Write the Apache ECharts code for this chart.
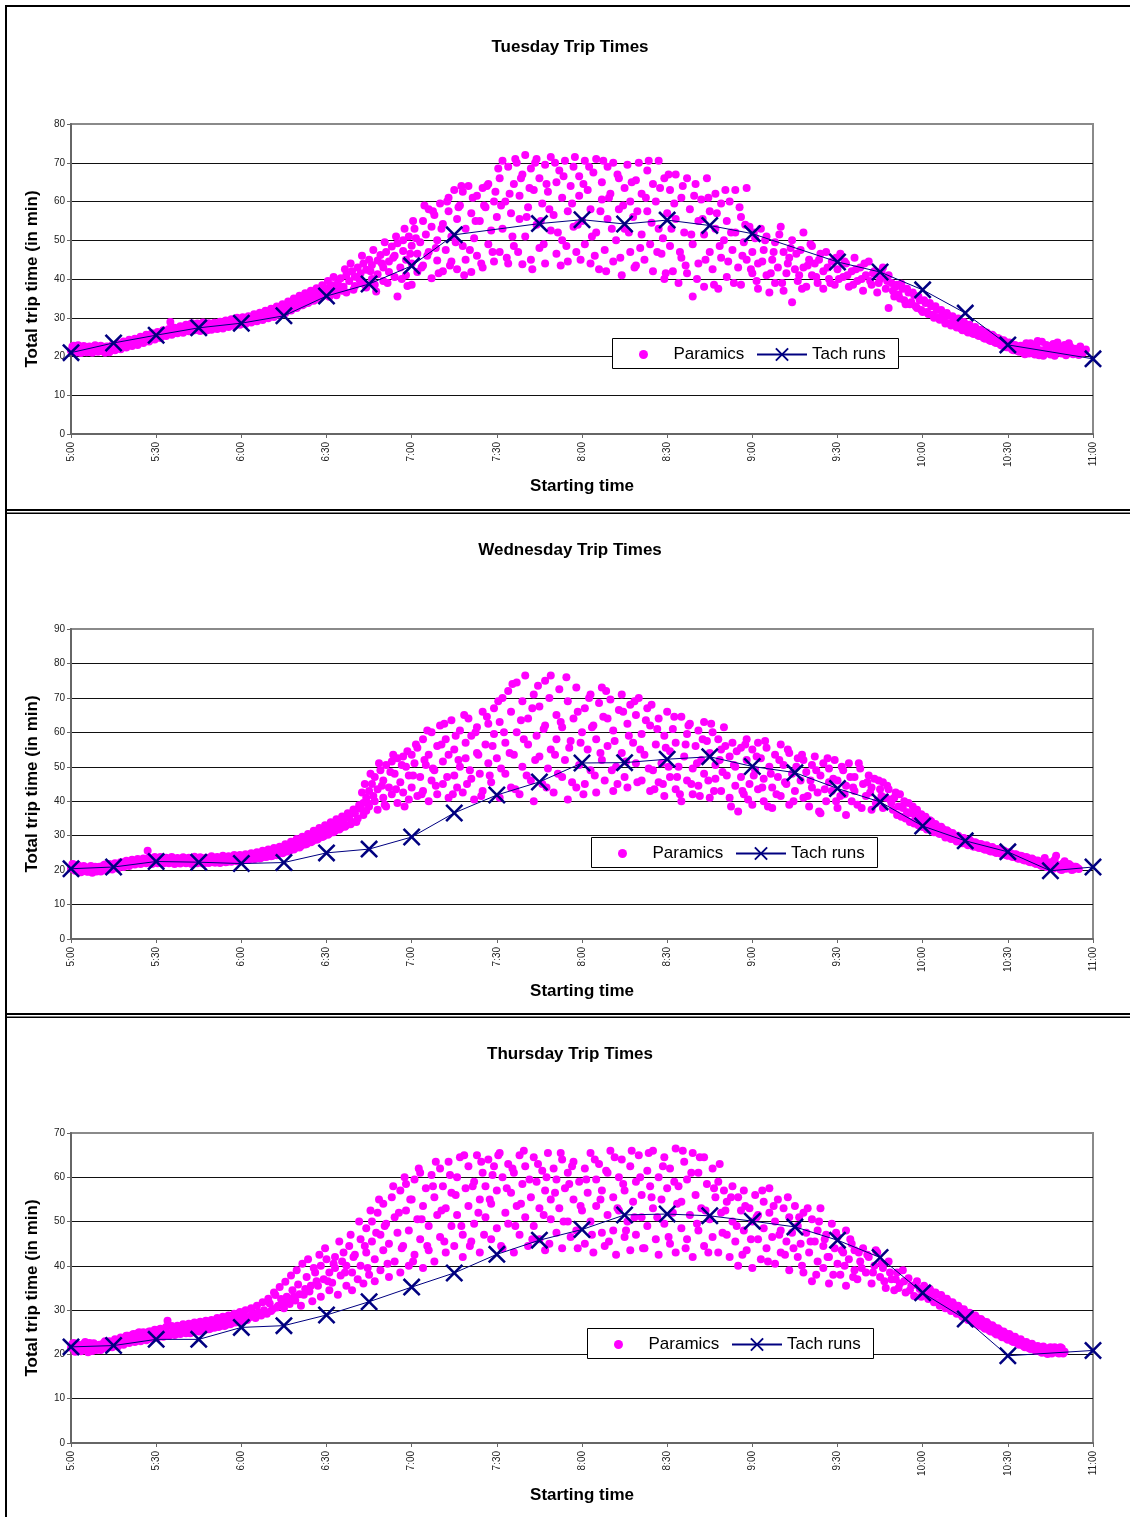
<!DOCTYPE html>
<html>
<head>
<meta charset="utf-8">
<script src="https://cdn.jsdelivr.net/npm/echarts@6/dist/echarts.min.js"></script>
<style>
  html, body { margin: 0; padding: 0; background: #fff; }
  #chart { width: 1130px; height: 1517px; }
</style>
</head>
<body>
<div id="chart"></div>
<script>
// x values are minutes after 5:00, y values are trip times in minutes
const dayTitles = ['Tuesday Trip Times', 'Wednesday Trip Times', 'Thursday Trip Times'];
const yMax = [80, 90, 70];
const xTickLabels = ['5:00', '5:30', '6:00', '6:30', '7:00', '7:30', '8:00', '8:30', '9:00', '9:30', '10:00', '10:30', '11:00'];

const tuesdayTachTimes = [0, 15, 30, 45, 60, 75, 90, 105, 120, 135, 165, 180, 195, 210, 225, 240, 270, 285, 300, 315, 330, 360];
const tuesdayTachValues = [21, 23.5, 25.5, 27.4, 28.6, 30.5, 35.6, 38.7, 43.4, 51.4, 54.3, 55.3, 54.2, 55.2, 53.8, 51.7, 44.4, 41.8, 37.2, 31.2, 23, 19.4];

const wednesdayTachTimes = [0, 15, 30, 45, 60, 75, 90, 105, 120, 135, 150, 165, 180, 195, 210, 225, 240, 255, 270, 285, 300, 315, 330, 345, 360];
const wednesdayTachValues = [20.4, 20.9, 22.5, 22.3, 21.9, 22.2, 25, 26.1, 29.6, 36.6, 41.8, 45.6, 51.1, 51.2, 52.2, 52.9, 50.1, 48.3, 43.7, 39.8, 32.8, 28.5, 25.3, 19.8, 20.9];

const thursdayTachTimes = [0, 15, 30, 45, 60, 75, 90, 105, 120, 135, 150, 165, 180, 195, 210, 225, 240, 255, 270, 285, 300, 315, 330, 360];
const thursdayTachValues = [21.7, 22, 23.4, 23.4, 26.1, 26.5, 28.9, 31.9, 35.2, 38.4, 42.6, 45.8, 48.2, 51.5, 51.7, 51.3, 50.1, 48.8, 45.8, 41.9, 33.9, 28, 19.7, 20.9];

const tuesdayParamics = [
  [0,21.5],[1,22.8],[2,21.2],[3,22],[4,21.5],[5,22.4],[6,21.3],[7,22],[8,21.6],[9,22.3],[10,21.4],[11,22.1],[12,21],[13,22.5],[14,21.8],[15,22.6],
  [16,22.2],[17,23.1],[18,22.5],[19,23.4],[20,23],[21,23.8],[22,23.2],[23,24],[24,23.6],[25,24.5],[26,24],[27,25],[28,24.6],[29,25.4],[30,25.2],
  [31,25.8],[32,25.3],[33,26.2],[34,25.8],[35,28.9],[36,26.5],[37,26.1],[38,27],[39,26.6],[40,27.5],[41,27],[42,28],[43,27.4],[44,27.8],[45,27.2],
  [46,28.2],[47,27.6],[48,26.8],[49,27.9],[50,27.3],[51,28.1],[52,27.5],[53,28.3],[54,27.9],[55,28.6],[56,28.1],[57,29],[58,28.4],[59,29.2],[60,28.7],
  [61,29.3],[62,28.9],[63,29.8],[64,29.2],[65,30.1],[66,29.6],[67,30.5],[68,30],[69,31],[70,30.4],[71,31.5],[72,30.8],[73,32],[74,31.4],[75,32.6],
  [76,31.8],[77,33.2],[78,32.4],[79,34],[80,33],[81,34.6],[82,33.5],[83,35.2],[84,34.2],[85,35.8],[86,34.8],[87,36.5],[88,35.3],[89,37.2],[90,36],
  [91,37.8],[91,35.4],[92,38.4],[93,36.8],[94,39],[94,37.5],[95,40.2],[96,38],[97,41],[97,36.5],[98,39.5],[99,42],[100,38.2],[100,40.6],[101,43],
  [102,39],[102,41.5],[103,44],[104,37.8],[104,42.4],[105,45],[106,40],[106,43.6],[107,38.5],[108,44.8],[108,41.2],[109,46.2],[110,39.5],[110,43],
  [111,47],[112,41.8],[112,44.5],[113,48.4],[114,40.5],[114,46],[115,49.2],[115,35.5],[116,43],[117,50],[117,47.2],[118,41],[118,45],[119,51],
  [120,44],[120,48.6],[120,38.5],[121,53],[122,41.8],[122,46.5],[123,49.5],[124,55],[124,43.5],[125,51.5],[126,58],[126,47],[127,40.2],[127,53.5],
  [128,56.5],[129,44.8],[129,50],[130,59.5],[131,42],[131,54.2],[132,47.5],[133,57.5],[133,61],[134,44.5],[134,51],[135,63],[136,55.5],[136,42.5],
  [137,59],[138,48.5],[138,62.5],[139,45],[139,53],[140,64],[141,57],[141,41.8],[142,50.5],[143,61.5],[143,46],[144,55],[145,63.5],[145,43],
  [146,58.5],[147,49],[147,64.5],[148,52.5],[149,60],[149,44.5],[150,56],
  [151,66],[151,47],[152,70.5],[152,53],[153,60],[154,44],[154,69],[155,57],[156,64.5],[156,48.5],[157,70],[158,55.5],[158,61.5],[159,43.8],
  [159,67],[160,72],[160,51],[161,58.5],[162,68.5],[162,45],[163,63],[164,54],[164,71],[165,48],[165,66],[166,59.5],[167,69.5],[167,44],
  [168,62.5],[169,52.5],[169,71.5],[170,56.5],[171,65],[171,46.5],[172,68],[173,50],[173,61],[174,70.5],[175,57.5],[175,44.5],[176,64],
  [177,53.5],[177,69],[178,47],[179,61.5],[179,66.5],[180,55],
  [181,70.5],[181,49],[182,63],[183,44],[183,58],[184,67.5],[185,52],[185,71],[186,42.5],[187,60.5],[187,65],[188,47.5],[189,69],[189,55.5],
  [190,62],[191,44.5],[191,70],[192,50],[193,58],[193,66],[194,41],[195,63.5],[195,53],[196,69.5],[197,47],[197,60],[198,56],[199,65.5],
  [199,43.5],[200,70],[201,51.5],[201,62],[202,45],[203,68],[203,57.5],[204,49],[205,64.5],[205,42],[206,60],[207,70.5],[207,53],[208,46.5],
  [209,66],[209,40],[210,57],
  [211,63],[211,48.5],[212,42],[213,67],[213,55.5],[214,39],[215,61],[215,45.5],[216,52],[217,66],[217,41.5],[218,58],[219,35.5],[219,49],
  [220,64.5],[221,44],[221,55],[222,60.5],[223,38],[223,51.5],[224,66],[225,47],[225,57.5],[226,42.5],[227,62],[227,53],[228,37.5],[229,59.5],
  [229,45.5],[230,50],[231,55],[231,40.5],[232,60],[233,47.5],[234,52],[234,63],[235,43],[236,56],[236,38.5],[237,49.5],[238,63.5],[238,45],
  [239,53.5],[240,41.5],[240,47],
  [241,50.5],[242,44],[242,37.5],[243,53],[244,47.5],[245,41],[245,51],[246,36.5],[247,45],[248,49.5],[248,39],[249,43],[250,53.5],[251,47],
  [251,37],[252,41.5],[253,45.5],[254,50],[254,34],[255,42.5],[256,39.5],[257,47.5],[258,43],[258,52],[259,38],[260,45],[261,41],[261,48.5],
  [262,44],[263,39],[264,46.5],[265,42],[265,37.5],[266,47],[267,40],[268,44.5],[269,38.5],[270,42.5],
  [271,46.5],[272,40.5],[273,44],[274,38],[275,42],[276,45.5],[277,39.5],[278,43],[279,37],[280,41],[281,44.5],[282,38.5],[283,42],[284,36.5],
  [285,40],[286,43],[287,37.5],[288,32.5],[288,41],[289,39],[290,35.5],
  [291,38.5],[292,35],[293,37.5],[294,33.5],[295,36.5],[296,34],[297,35.8],[298,32.5],[299,34.5],[300,31.5],[301,33.8],[302,31],[303,33],[304,30],
  [305,32],[306,29.5],[307,31],[308,28.5],[309,30.5],[310,28],[311,29.5],[312,27.5],[313,29],[314,26.8],[315,28.3],[316,26.2],[317,27.5],[318,25.8],
  [319,27],[320,25.3],[321,26.4],[322,24.6],[323,25.8],[324,24],[325,25.2],[326,23.5],[327,24.5],[328,22.8],[329,23.8],[330,22.4],
  [331,23.2],[332,21.6],[333,22.6],[334,21.2],[335,22.4],[336,20.6],[337,22],[338,23.4],[339,21],[340,22.6],[341,20.3],[342,23.8],[343,21.5],
  [344,22.8],[345,20.5],[346,23.2],[347,21.8],[348,22.3],[349,20.8],[350,23],[351,21.4],[352,22.5],[353,20.6],[354,21.8],[355,20.4],[356,21.6]
];

const tuesdayParamicsHalfMinutes = [
  [0.5,22.6],[1.5,21],[2.5,22.9],[3.5,20.9],[4.5,22.7],[5.5,21.1],[6.5,22.6],[7.5,21],[8.5,22.9],[9.5,21.2],[10.5,22.8],[11.5,21.3],[12.5,22.6],
  [13.5,21.1],[14.5,23],[15.5,21.6],[16.5,23.4],[17.5,21.9],[18.5,23.9],[19.5,22.3],[20.5,24.3],[21.5,22.7],[22.5,24.6],[23.5,23],[24.5,25.1],
  [25.5,23.5],[26.5,25.6],[27.5,23.9],[28.5,26],[29.5,24.4],[30.5,26.3],[31.5,24.8],[32.5,26.8],[33.5,25.3],[34.5,27.1],[35.5,25.6],[36.5,27.4],
  [37.5,26],[38.5,27.8],[39.5,26.1],[40.5,28.2],[41.5,26.5],[42.5,28.6],[43.5,26.8],[44.5,28.5],[45.5,26.6],[46.5,28.8],[47.5,27],[48.5,28.6],
  [49.5,26.9],[50.5,28.7],[51.5,27.1],[52.5,29],[53.5,27.2],[54.5,29.3],[55.5,27.6],[56.5,29.6],[57.5,27.9],[58.5,30],[59.5,28.2],[60.5,30.1],
  [61.5,28.4],[62.5,30.4],[63.5,28.8],[64.5,30.9],[65.5,29.1],[66.5,31.3],[67.5,29.4],[68.5,31.8],[69.5,29.9],[70.5,32.3],[71.5,30.2],[72.5,32.9],
  [73.5,30.8],[74.5,33.5],[75.5,31.2],[76.5,34.2],[77.5,31.9],[78.5,35],[79.5,32.5],[80.5,35.7],[81.5,33.2],[82.5,36.3],[83.5,33.8],[84.5,37],
  [85.5,34.4],[86.5,37.6],[87.5,35],[88.5,38.4],[89.5,35.8],
  [90.5,39.5],[92.5,40.5],[93.5,35.8],[95.5,37],[96.5,42.5],[98.5,44],[99.5,37.2],[101.5,40],[102.5,46],[103.5,38.5],[105.5,42],[106.5,47.5],
  [107.5,36.8],[109.5,44],[110.5,49.5],[111.5,39],[113.5,45.5],[114.5,51],[116.5,40],[117.5,53],[118.5,38.2],[119.5,46.5],
  [120.5,55],[121.5,50.5],[123.5,43],[124.5,59],[125.5,46],[127.5,57.5],[128.5,48],[129.5,41.5],[130.5,53],[132.5,60],[133.5,43.5],[135.5,49.5],
  [136.5,58.5],[137.5,64],[138.5,41],[140.5,47.5],[141.5,61],[142.5,55],[144.5,44],[145.5,59],[146.5,64],[148.5,47],[149.5,62.5],
  [150.5,68.5],[151.5,59],[153.5,45.5],[154.5,62],[155.5,51],[156.5,71],[157.5,47],[158.5,66],[160.5,56],[161.5,63.5],[162.5,42.5],[163.5,70],
  [165.5,55],[166.5,49],[167.5,64.5],[168.5,58],[170.5,70],[171.5,52],[172.5,43.5],[173.5,66.5],[174.5,48.5],[176.5,59.5],[177.5,71.5],[178.5,54],
  [179.5,45],[180.5,64.5],[182.5,69],[183.5,51],[184.5,46],[186.5,57.5],[187.5,70.5],[188.5,42],[189.5,61],[190.5,53],[192.5,67],[193.5,45.5],
  [194.5,59],[196.5,52],[197.5,65],[198.5,43],[199.5,57.5],[200.5,48],[202.5,61],[203.5,70.5],[204.5,54.5],[206.5,47],[207.5,63.5],[208.5,50.5],
  [209.5,41.5],[210.5,67],[211.5,53],[212.5,59.5],[214.5,47],[215.5,64],[216.5,43.5],[218.5,51.5],[219.5,61.5],[220.5,40],[222.5,55.5],[223.5,45],
  [224.5,61],[226.5,38.5],[227.5,57],[228.5,48.5],[230.5,63],[231.5,44.5],[232.5,52],[233.5,39],[235.5,58.5],[236.5,46],[237.5,54],[239.5,42.5],
  [240.5,52],[241.5,39.5],[243.5,44.5],[244.5,50],[246.5,41.5],[247.5,47],[249.5,51.5],[250.5,39],[252.5,44],[253.5,48],[255.5,46.5],[256.5,41],
  [257.5,37.5],[259.5,43.5],[260.5,49],[262.5,40.5],[263.5,45],[266.5,43],[267.5,39],[269.5,45.5],[270.5,40],[272.5,44.5],[273.5,41],[275.5,38.5],
  [276.5,42.5],[278.5,40],[279.5,44],[281.5,39.5],[282.5,41.5],[284.5,39],[285.5,42],[287.5,39.5],[289.5,37],
  [290.5,38],[291.5,36],[292.5,38.8],[293.5,34.5],[294.5,37.5],[295.5,33.5],[296.5,36.5],[297.5,33],[298.5,35.5],[299.5,32],[300.5,34.5],[301.5,31.5],
  [302.5,33.8],[303.5,30.8],[304.5,33],[305.5,30],[306.5,32],[307.5,29.4],[308.5,31.2],[309.5,28.6],[310.5,30.4],[311.5,28],[312.5,29.8],[313.5,27.2],
  [314.5,28.9],[315.5,26.6],[316.5,28.2],[317.5,26],[318.5,27.6],[319.5,25.4],[320.5,26.9],[321.5,24.8],[322.5,26.2],[323.5,24.2],[324.5,25.6],
  [325.5,23.6],[326.5,24.8],[327.5,23],[328.5,24.2],[329.5,22.4],[330.5,23.6],[331.5,21.8],[332.5,23],[333.5,21.4],[334.5,22.8],[335.5,21],
  [336.5,23.4],[337.5,20.8],[338.5,22.2],[339.5,20.5],[340.5,24],[341.5,21.6],[342.5,20.2],[343.5,23],[344.5,21],[345.5,22.6],[346.5,20.2],
  [347.5,23.6],[348.5,21],[349.5,22.4],[350.5,20.3],[351.5,23.4],[352.5,21.2],[353.5,22],[354.5,20.8],[355.5,22.6],[356.5,21],[357.5,21.8]
];

const wednesdayParamics = [
  [0,20.5],[1,21.6],[2,20],[3,21],[4,19.8],[5,20.6],[6,19.5],[7,21.2],[8,20.2],[9,19.6],[10,21],[11,20.3],[12,21.6],[13,20.8],[14,21.4],[15,20.6],
  [16,21.8],[17,21.2],[18,22.2],[19,21.5],[20,22.4],[21,21.8],[22,22.6],[23,22],[24,22.8],[25,22.2],[26,23],[27,25.6],[28,22.5],[29,23.2],[30,22.6],
  [31,23.4],[32,22.4],[33,23],[34,22.2],[35,23.2],[36,22.6],[37,22.1],[38,23],[39,22.4],[40,23.4],[41,22.2],[42,22.8],[43,22],[44,23.2],[45,22.4],
  [46,22.9],[47,22.1],[48,23.5],[49,22.3],[50,23],[51,22.2],[52,23.4],[53,22.6],[54,23.6],[55,22.4],[56,23.2],[57,22.8],[58,23.8],[59,22.6],[60,23.4],
  [61,22.9],[62,24],[63,23.2],[64,23.8],[65,23.3],[66,24.2],[67,23.6],[68,24.5],[69,23.9],[70,24.8],[71,24.2],[72,25.2],
  [73,24.8],[74,25.8],[75,25.2],[76,26.5],[77,25.6],[78,27.3],[79,26.4],[80,28],[81,27],[82,28.8],[83,27.6],[84,29.5],[85,28.4],[86,30.2],[87,29],
  [88,31],[89,29.8],[90,31.8],[91,30.6],[92,32.5],[93,31.4],[94,33.4],[95,32.2],[96,34.2],[97,33],[98,35.2],[99,34],[100,36.5],[101,35],[102,37.8],
  [103,36],[103,39.5],[104,41],[104,37.2],[105,43],[105,38.5],[106,45],[107,40],[107,47],[108,37.5],[108,43.5],[109,49],[110,41],[110,46],[111,50.5],
  [111,38.5],[112,44],[113,51.5],[113,42],[114,48],[115,52.5],[115,39.5],[116,45.5],[117,53],[117,42.5],[118,50],[119,40.5],[119,47.5],[120,53.5],[120,44],
  [121,51],[122,41.5],[122,55.5],[123,47],[124,58],[124,43],[125,50.5],[126,53.5],[126,40],[127,60],[127,46],[128,49],[129,56],[129,42],[130,62],
  [131,51.5],[131,45],[132,58],[133,41],[133,53.5],[134,63.5],[135,47.5],[135,55],[136,44],[137,60.5],[137,50],[138,42.5],[139,57],[139,52.5],
  [140,64],[141,46.5],[141,59],[142,40.5],[143,54],[143,61.5],[144,48],[145,66],[145,43],[146,56.5],[147,51],[147,62.5],[148,45.5],[149,59.5],
  [149,67],[150,52.5],
  [151,41],[151,63],[152,70],[153,48],[153,57],[154,72],[155,44],[155,66],[156,53.5],[157,74.5],[157,60],[158,42],[159,69],[159,50],[160,76.5],
  [161,56.5],[161,64],[162,46],[163,71],[163,40],[164,59],[165,53],[165,67.5],[166,45],[167,75],[167,62],[168,49.5],[169,76.5],[169,55],[170,42.5],
  [171,65],[171,58],[172,72.5],[173,47],[173,61.5],[174,52],[175,69],[175,40.5],[176,57.5],[177,64],[178,44],[178,73],[179,50.5],[180,60],
  [181,67],[181,45],[182,55],[183,71],[183,49],[184,62],[185,42.5],[185,58],[186,68.5],[187,52],[187,73],[188,46],[189,64],[189,56],[190,69.5],
  [191,43],[191,60.5],[192,50],[193,66.5],[194,54],[194,71],[195,47],[196,62.5],[196,44],[197,68],[198,57],[199,51],[199,65],[200,70],[201,46],
  [201,59.5],[202,53.5],[203,67],[204,43],[204,62],[205,49],[206,56.5],
  [207,64],[207,45.5],[208,51],[209,59],[209,41.5],[210,66],[211,54.5],[211,47],[212,61],[213,43.5],[213,57],[214,50],[215,64.5],[215,40],[216,53],
  [217,59.5],[217,46],[218,62.5],[219,49.5],[219,42],[220,56],[221,60.5],[221,44.5],[222,52],[223,63],[223,48],[224,57.5],[225,41],[225,54],[226,60],
  [227,46.5],[227,50.5],[228,58],[229,43],[229,55],[230,61.5],
  [231,47.5],[232,53],[232,41],[233,57],[234,44.5],[234,50],[235,37],[236,55.5],[236,47],[237,42],[238,58],[238,52],[239,45],[240,39],[240,55],
  [241,49],[242,43.5],[242,57],[243,52.5],[244,40],[244,46.5],[245,55.5],[246,50],[247,44],[247,38],[248,53.5],[249,47],[250,56.5],[250,41.5],
  [251,50.5],[252,45],[253,54],[253,39],[254,48],[255,43],[256,52.5],
  [257,46],[258,41],[258,52],[259,48.5],[260,38.5],[261,44],[261,50.5],[262,53],[263,42.5],[264,47.5],[264,36.5],[265,51],[266,40],[267,45.5],
  [267,49.5],[268,43],[269,52],[270,38],[270,46],[271,41.5],[272,49],[273,44.5],[273,36],[274,51],[275,40],[276,47],[276,43],[277,39],[278,49.5],
  [279,45],[280,41.5],[281,47.5],[282,37.5],[282,44],[283,46.5],[284,40],[285,43.5],[286,38],[286,45.5],[287,41],[288,43.5],
  [289,39.5],[290,41],[291,36],[292,42],[293,38],[294,35],[295,39.5],[296,36.5],[297,33.5],[298,37.5],[299,34.5],[300,32.5],[301,35.5],[302,33],
  [303,34.2],[304,31],[305,32.8],[306,30.5],[307,32],[308,29.5],[309,31.2],[310,29],[311,30.3],[312,28.3],[313,29.5],[314,27.8],[315,28.8],
  [316,27.2],[317,28.4],[318,26.8],
  [319,27.8],[320,26.4],[321,27.3],[322,25.9],[323,26.8],[324,25.4],[325,26.3],[326,25],[327,25.8],[328,24.6],[329,25.4],[330,24.2],[331,24.9],
  [332,23.8],[333,24.5],[334,23.3],[335,24],[336,22.8],[337,23.5],[338,22.3],[339,23],[340,21.8],[341,22.5],[342,21.2],[343,23.5],[344,20.8],
  [345,22.3],[346,20.4],[347,24.2],[348,21.5],[349,20],[350,22.6],[351,20.6],[352,21.4],[353,20.2],[354,21],[355,20.3]
];

const wednesdayParamicsHalfMinutes = [
  [0.5,21.8],[1.5,19.8],[2.5,21.4],[3.5,19.4],[4.5,21.2],[5.5,19.6],[6.5,20.8],[7.5,19.2],[8.5,21],[9.5,20.4],[10.5,19.6],[11.5,21.4],[12.5,19.9],
  [13.5,21.8],[14.5,20.2],[15.5,22],[16.5,20.5],[17.5,22.3],[18.5,20.9],[19.5,22.7],[20.5,21.2],[21.5,23],[22.5,21.6],[23.5,23.2],[24.5,21.8],
  [25.5,23.4],[26.5,22],[27.5,23.6],[28.5,21.8],[29.5,23.8],[30.5,22],[31.5,23.8],[32.5,21.9],[33.5,23.6],[34.5,22],[35.5,23.8],[36.5,21.8],
  [37.5,23.5],[38.5,21.9],[39.5,23.7],[40.5,22],[41.5,23.6],[42.5,21.8],[43.5,23.9],[44.5,22],[45.5,23.7],[46.5,21.9],[47.5,23.6],[48.5,22.1],
  [49.5,24],[50.5,22.2],[51.5,23.8],[52.5,22.1],[53.5,24.2],[54.5,22.3],[55.5,24],[56.5,22.4],[57.5,24.4],[58.5,22.6],[59.5,24.4],[60.5,22.8],
  [61.5,24.6],[62.5,23],[63.5,24.9],[64.5,23.2],[65.5,25.2],[66.5,23.4],[67.5,25.6],[68.5,23.8],[69.5,26],[70.5,24],[71.5,26.4],[72.5,24.3],
  [73.5,26.8],[74.5,24.9],[75.5,27.5],[76.5,25.4],[77.5,28.2],[78.5,26],[79.5,29],[80.5,26.6],[81.5,29.7],[82.5,27.4],[83.5,30.5],[84.5,28.1],
  [85.5,31.4],[86.5,28.8],[87.5,32.2],[88.5,29.6],[89.5,33],[90.5,30.3],[91.5,33.9],[92.5,31],[93.5,34.8],[94.5,31.8],[95.5,35.6],[96.5,32.6],
  [97.5,36.5],[98.5,33.3],[99.5,37.6],[100.5,34],[101.5,38.8],
  [102.5,42.5],[103.5,45],[104.5,39.5],[105.5,48],[106.5,41.5],[108.5,51],[109.5,44.5],[110.5,39],[112.5,48.5],[113.5,53.5],[114.5,43.5],[116.5,50.5],
  [117.5,38.5],[118.5,54.5],[120.5,47.5],[121.5,56.5],[123.5,42],[124.5,52],[125.5,60.5],[127.5,49.5],[128.5,44.5],[130.5,56.5],[131.5,62.5],
  [132.5,47],[134.5,42],[135.5,59],[136.5,52],[138.5,65],[139.5,45],[140.5,49],[142.5,60],[143.5,53.5],[144.5,41.5],[146.5,64.5],[147.5,47.5],
  [148.5,56],[150.5,69],
  [151.5,49.5],[152.5,60],[154.5,54],[155.5,74],[156.5,43.5],[158.5,63.5],[159.5,58],[160.5,47.5],[162.5,67],[163.5,52],[164.5,73.5],[166.5,61],
  [167.5,44],[168.5,70],[170.5,53.5],[171.5,48],[172.5,63],[174.5,76],[175.5,55.5],[176.5,45.5],[178.5,66],[179.5,57],[180.5,42],[182.5,70],
  [183.5,61.5],[184.5,47.5],[186.5,54],[187.5,64.5],[188.5,72],[190.5,49],[191.5,57.5],[192.5,45],[194.5,66],[195.5,51.5],[196.5,59],[198.5,69],
  [199.5,45.5],[200.5,55],[202.5,63.5],[203.5,49.5],[204.5,68],[205.5,43.5],
  [206.5,61],[208.5,45],[209.5,55.5],[210.5,50],[212.5,64.5],[213.5,47],[214.5,42],[216.5,56.5],[217.5,62],[218.5,45],[220.5,51],[221.5,41.5],
  [222.5,58],[224.5,46],[225.5,62.5],[226.5,43],[228.5,52],[229.5,48.5],[230.5,56],[232.5,38.5],[233.5,50.5],[234.5,54.5],[236.5,43],[237.5,56.5],
  [238.5,40.5],[240.5,47.5],[241.5,53],[243.5,44],[244.5,57.5],[245.5,38.5],[246.5,48],[248.5,42],[249.5,52],[251.5,45.5],[252.5,55],[254.5,40],
  [255.5,50],[257.5,53.5],[259.5,41.5],[260.5,46],[262.5,49],[263.5,37],[265.5,43.5],[266.5,52.5],[268.5,46.5],[269.5,40],[271.5,50],[272.5,42],
  [274.5,47],[275.5,44],[277.5,51],[278.5,38],[280.5,45.5],[281.5,42.5],[283.5,39.5],[284.5,46],[285.5,41.5],[287.5,44.5],
  [288.5,40.5],[289.5,37.5],[290.5,42.5],[291.5,38.5],[292.5,35.5],[293.5,40],[294.5,36.8],[295.5,34],[296.5,38.5],[297.5,35.5],[298.5,33],
  [299.5,36.2],[300.5,33.8],[301.5,31.8],[302.5,34.5],[303.5,32],[304.5,33.4],[305.5,30.8],[306.5,32.6],[307.5,30.3],[308.5,31.6],[309.5,29.4],
  [310.5,30.8],[311.5,28.9],[312.5,30],[313.5,28.4],[314.5,29.3],[315.5,27.6],[316.5,28.8],[317.5,27.1],[318.5,28.1],[319.5,26.6],[320.5,27.6],
  [321.5,26.1],[322.5,27.2],[323.5,25.6],[324.5,26.7],[325.5,25.2],[326.5,26.1],[327.5,24.8],[328.5,25.7],[329.5,24.3],[330.5,25.2],[331.5,23.9],
  [332.5,24.6],[333.5,23.4],[334.5,24.2],[335.5,22.9],[336.5,23.8],[337.5,22.4],[338.5,23.4],[339.5,22],[340.5,22.8],[341.5,21.4],[342.5,22.4],
  [343.5,21],[344.5,22],[345.5,20.6],[346.5,23],[347.5,21],[348.5,20.2],[349.5,22],[350.5,20.4],[351.5,21.8],[352.5,20],[353.5,21],[354.5,20.6]
];

const thursdayParamics = [
  [0,21.5],[1,22.6],[2,20.8],[3,22],[4,21.2],[5,22.8],[6,20.5],[7,21.8],[8,22.5],[9,21],[10,22.2],[11,21.5],[12,23],[13,21.8],[14,22.6],[15,22],
  [16,23.2],[17,22.4],[18,23.6],[19,22.8],[20,24.2],[21,23.2],[22,24.6],[23,23.6],[24,25],[25,23.8],[26,24.5],[27,23.4],[28,25.2],[29,24.2],[30,24.8],
  [31,25.6],[32,24.4],[33,25.2],[34,27.6],[35,24.8],[36,25.8],[37,24.6],[38,25.4],[39,26.2],[40,25],[41,26],[42,24.8],[43,25.6],[44,26.5],[45,25.2],
  [46,26.2],[47,25.5],[48,26.8],[49,25.8],[50,26.5],[51,27.4],[52,26.2],[53,27],[54,26.4],[55,27.6],[56,26.8],[57,27.8],[58,27.2],
  [59,28.2],[60,27.4],[61,28.6],[62,27.8],[63,28.5],[64,29.2],[65,28.2],[66,29.5],[67,28.8],[68,30],[69,29.2],[70,31.5],[71,30.2],[72,33.4],[73,31],
  [74,32.5],[75,30.4],[76,33],[77,31.4],[78,34.5],[79,32.2],[80,35.8],[81,31],[82,33.5],[83,37.5],[84,34.2],[85,32],[86,38.5],[87,35.5],
  [88,40],[88,33],[89,37],[90,41.5],[91,34.5],[91,38.5],[92,36.2],[93,42],[93,39.5],[94,33.5],[95,37.8],[96,43],[97,35.5],[97,40],[98,44.5],
  [99,38.5],[99,34.5],[100,42.5],[101,37],[102,46],[102,40],[103,36],[104,48.5],[104,43],[105,38],[106,50],[106,45.5],[107,41.5],[107,36.5],
  [108,52],[109,47],[109,39],[110,54],[110,43.5],[111,49.5],[112,37.5],[112,45],[113,55.5],[114,51],[114,41],[115,47.5],[116,57],[116,38.5],
  [117,44.5],[118,52.5],[118,58.5],[119,40],[119,48],[120,55],[121,42.5],[121,59.5],[122,50.5],[123,46],[123,61],[124,39.5],[124,53.5],[125,57.5],
  [126,43.5],[126,49],[127,60.5],[128,55.5],[128,41],[129,51.5],[130,62],[130,46.5],[131,58],[132,43],[132,53],[133,63.5],[134,49],[134,56.5],
  [135,44.5],[136,60],[136,51.5],[137,64.5],[138,47],[138,42],[139,57.5],[140,62.5],[140,53.5],[141,45.5],[142,59],[142,49.5],[143,65],[144,55],
  [144,43],[145,61],
  [146,51],[146,58],[147,64],[148,46],[148,54],[149,62.5],[150,48.5],[150,57],[151,65.5],[152,44],[152,60],[153,52],[154,63],[154,49.5],[155,56.5],
  [156,43],[156,61],[157,53.5],[158,65],[158,47],[159,58.5],[160,51],[160,62.5],[161,44.5],[162,55.5],[163,64.5],[163,49],[164,59],[165,46],[165,53],
  [166,61.5],[167,57],[167,43.5],[168,65.5],[169,50.5],[169,55],[170,62],[171,47.5],[171,59.5],[172,53],[173,64],[173,44],[174,57.5],[175,50],
  [175,61],[176,46.5],[177,55],[177,63.5],[178,48],[179,59],[180,52.5],
  [181,62],[181,45],[182,56.5],[183,65.5],[183,50],[184,43],[185,59.5],[185,53.5],[186,63],[187,47.5],[187,57],[188,44.5],[189,61],[189,51.5],
  [190,66],[191,48],[191,55.5],[192,42.5],[193,60],[193,52.5],[194,64],[195,46.5],[195,57],[196,50],[197,62.5],[197,43.5],[198,54.5],[199,59],
  [199,47],[200,65],[201,51],[201,56],[202,44],[203,61.5],[203,49],[204,58],[205,66],[205,53],[206,46],[207,60],[207,42.5],[208,55],[209,64.5],
  [209,49.5],[210,57.5],[211,45],[211,62],[212,52],[213,66.5],[213,43],[214,58],[215,48.5],[215,54.5],[216,63.5],[217,46],[217,59.5],[218,51.5],
  [219,65.5],[219,42],[220,56],[221,61],[221,48],[222,53],[223,64.5],[223,44.5],[224,58.5],[225,50.5],[226,62],[226,46.5],[227,55.5],[228,59],
  [228,43],[229,52],[230,57],
  [231,47],[231,54.5],[232,42],[233,58],[233,50],[234,45.5],[235,55.5],[235,40],[236,52.5],[237,48],[237,57],[238,43.5],[239,53],[240,50],
  [240,39.5],[241,56],[242,46],[242,51.5],[243,41.5],[244,54.5],[244,48.5],[245,44],[246,52],[246,57.5],[247,46.5],[248,40.5],[248,50],[249,55],
  [250,43],[250,48],[251,53],[252,45.5],[253,39],[253,51],[254,47.5],
  [255,53.5],[256,42],[256,49],[257,45],[258,52],[258,38.5],[259,47.5],[260,43],[261,50.5],[261,36.5],[262,45.5],[263,41],[263,48],[264,53],
  [265,39.5],[265,44.5],[266,47],[267,42],[267,36],[268,49.5],[269,44],[270,40.5],[270,46.5],[271,38],[272,43],[273,48],[273,35.5],[274,41.5],
  [275,45],[276,39],[276,43.5],[277,37],[278,41],
  [279,44],[280,38.5],[281,42],[282,36],[283,40],[284,43],[285,37.5],[286,39.5],[287,35],[288,41],[289,37],[290,34.5],[291,38.5],[292,36],
  [293,39],[294,34],[295,37.2],[296,35.5],[297,33.2],[298,36.5],[299,34.8],[300,33.5],
  [301,35],[302,32.5],[303,34.2],[304,31.8],[305,33.5],[306,31],[307,32.8],[308,30.4],[309,32],[310,29.8],[311,31.2],[312,29.2],[313,30.4],
  [314,28.5],[315,29.6],[316,27.8],[317,29],[318,27],[319,28.3],[320,26.5],[321,27.6],[322,25.8],[323,26.9],[324,25.2],[325,26.2],[326,24.5],
  [327,25.5],[328,23.9],[329,24.8],[330,23.3],[331,24.2],[332,22.8],[333,23.5],[334,22.2],[335,22.9],[336,21.6],[337,22.4],[338,21.2],[339,21.9],
  [340,20.8],[341,21.5],[342,20.4],[343,21.2],[344,20.1],[345,21.6],[346,20.5],[347,21],[348,20.2],[349,21.4],[350,20.6]
];

const thursdayParamicsHalfMinutes = [
  [0.5,22.4],[1.5,20.6],[2.5,22.2],[3.5,20.7],[4.5,22.4],[5.5,21],[6.5,22.6],[7.5,20.8],[8.5,22],[9.5,21.8],[10.5,21],[11.5,22.6],[12.5,21.4],
  [13.5,23],[14.5,21.6],[15.5,23.4],[16.5,21.8],[17.5,23.8],[18.5,22.2],[19.5,24.2],[20.5,22.6],[21.5,24.4],[22.5,22.8],[23.5,24.8],[24.5,23],
  [25.5,25],[26.5,23.2],[27.5,25.2],[28.5,23.6],[29.5,25.6],[30.5,23.8],[31.5,25.8],[32.5,24],[33.5,26.2],[34.5,24.2],[35.5,26.4],[36.5,24.4],
  [37.5,26.5],[38.5,24.6],[39.5,26.8],[40.5,24.8],[41.5,26.9],[42.5,25],[43.5,27.2],[44.5,25.3],[45.5,27.4],[46.5,25.4],[47.5,27.6],[48.5,25.7],
  [49.5,27.8],[50.5,26],[51.5,28.2],[52.5,26.4],[53.5,28.5],[54.5,26.6],[55.5,28.8],[56.5,27],[57.5,29.2],[58.5,27.4],[59.5,29.6],[60.5,27.8],
  [61.5,30],[62.5,28.2],[63.5,30.4],[64.5,28.6],[65.5,31],[66.5,29],[67.5,31.8],[68.5,29.4],[69.5,32.6],[70.5,29.8],[71.5,34],[72.5,30.6],
  [73.5,35.2],[74.5,31.5],[75.5,36.4],[76.5,32],[77.5,37.8],[78.5,33],[79.5,39],[80.5,33.6],[81.5,40.5],[82.5,34.8],[83.5,41.5],[84.5,35.5],
  [85.5,39.5],[86.5,36.5],
  [87.5,42.5],[89.5,44],[90.5,36.5],[92.5,40.5],[94.5,45.5],[95.5,41],[96.5,38.5],[98.5,47],[99.5,42],[101.5,50],[103.5,44.5],[104.5,39.5],
  [105.5,52.5],[107.5,47.5],[108.5,55],[110.5,49],[111.5,40.5],[113.5,58],[115.5,52],[116.5,44],[117.5,60],[119.5,55],[120.5,41],[122.5,62],
  [123.5,50.5],[125.5,44.5],[127.5,58],[128.5,63.5],[130.5,52.5],[131.5,45.5],[133.5,60.5],[135.5,56],[137.5,49],[138.5,65],[140.5,44.5],
  [141.5,58],[143.5,52],[144.5,63.5],
  [145.5,47],[147.5,55],[148.5,60.5],[150.5,65],[151.5,44.5],[153.5,57.5],[155.5,62],[156.5,49],[158.5,54],[159.5,66],[161.5,59.5],[162.5,46],
  [164.5,63],[166.5,51.5],[167.5,60],[168.5,45],[170.5,56.5],[172.5,65.5],[173.5,50],[175.5,58.5],[176.5,62.5],[178.5,44],[179.5,53.5],[181.5,59.5],
  [183.5,47],[184.5,64],[186.5,55],[188.5,61.5],[189.5,45.5],[191.5,64.5],[192.5,53],[194.5,58.5],[195.5,48],[197.5,66],[198.5,51],[200.5,60],
  [201.5,44],[203.5,65.5],[204.5,55.5],[206.5,51],[208.5,62.5],[210.5,46.5],[212.5,59],[213.5,54],[215.5,66],[216.5,44],[218.5,61],[220.5,49.5],
  [221.5,64.5],[223.5,52.5],[224.5,43],[226.5,57.5],[228.5,63],[229.5,47.5],
  [230.5,52.5],[232.5,55.5],[234.5,49],[236.5,42.5],[237.5,53.5],[239.5,46],[241.5,51],[243.5,57],[245.5,41],[247.5,53.5],[249.5,47],[251.5,42.5],
  [252.5,55.5],[254.5,44],[256.5,51],[257.5,40],[259.5,53],[260.5,45.5],[262.5,38],[263.5,50],[265.5,46],[266.5,42],[268.5,38],[269.5,47.5],
  [271.5,43.5],[272.5,40],[274.5,46],[275.5,37.5],[277.5,43],[278.5,39.5],[280.5,42.5],[282.5,38.5],[283.5,43.5],[285.5,40.5],[286.5,36.5],
  [288.5,38.5],[290.5,37],[291.5,35],[293.5,36.5],[295.5,34.5],[297.5,35.8],[299.5,33],
  [300.5,35.5],[301.5,33.2],[302.5,34.8],[303.5,32.6],[304.5,34],[305.5,31.8],[306.5,33.4],[307.5,31.2],[308.5,32.6],[309.5,30.4],[310.5,31.8],
  [311.5,29.8],[312.5,31],[313.5,29],[314.5,30.2],[315.5,28.2],[316.5,29.4],[317.5,27.4],[318.5,28.8],[319.5,26.8],[320.5,28],[321.5,26.1],
  [322.5,27.3],[323.5,25.4],[324.5,26.6],[325.5,24.8],[326.5,25.9],[327.5,24.2],[328.5,25.2],[329.5,23.6],[330.5,24.6],[331.5,23],[332.5,24],
  [333.5,22.4],[334.5,23.4],[335.5,21.9],[336.5,22.8],[337.5,21.4],[338.5,22.4],[339.5,21],[340.5,21.9],[341.5,20.6],[342.5,21.8],[343.5,20.4],
  [344.5,21.4],[345.5,20.2],[346.5,21.6],[347.5,20.4],[348.5,21.6],[349.5,20.2]
];

const paramicsByDay = [
  tuesdayParamics.concat(tuesdayParamicsHalfMinutes),
  wednesdayParamics.concat(wednesdayParamicsHalfMinutes),
  thursdayParamics.concat(thursdayParamicsHalfMinutes)
];
const tachTimesByDay = [tuesdayTachTimes, wednesdayTachTimes, thursdayTachTimes];
const tachValuesByDay = [tuesdayTachValues, wednesdayTachValues, thursdayTachValues];

// layout of the three stacked panels (pixels)
const plotTop = [124, 629, 1133];
const titleTop = [39, 542, 1046];
const legendLeft = [612, 591, 587];
const legendMid = [353, 852, 1343];

const FONT = '"Liberation Sans", Arial, Helvetica, sans-serif';
const MAGENTA = '#ff00ff';
const NAVY = '#000080';
// filled "X" marker like Excel's
const crossSymbol = 'path://M0,10L10,0L50,40L90,0L100,10L60,50L100,90L90,100L50,60L10,100L0,90L40,50Z';

const chart = echarts.init(document.getElementById('chart'), null, { renderer: 'canvas' });

const title = [], grid = [], xAxis = [], yAxis = [], series = [], legend = [];
const graphic = [
  { type: 'rect', shape: { x: 5, y: 5, width: 2, height: 1512 }, style: { fill: '#000' }, z: 50 },
  { type: 'rect', shape: { x: 5, y: 5, width: 1125, height: 2 }, style: { fill: '#000' }, z: 50 },
  { type: 'rect', shape: { x: 5, y: 509, width: 1125, height: 2 }, style: { fill: '#000' }, z: 50 },
  { type: 'rect', shape: { x: 5, y: 512.5, width: 1125, height: 1.5 }, style: { fill: '#000' }, z: 50 },
  { type: 'rect', shape: { x: 5, y: 1013, width: 1125, height: 2 }, style: { fill: '#000' }, z: 50 },
  { type: 'rect', shape: { x: 5, y: 1016.5, width: 1125, height: 1.5 }, style: { fill: '#000' }, z: 50 }
];

for (let i = 0; i < 3; i++) {
  title.push({
    text: dayTitles[i], left: 570, top: titleTop[i], textAlign: 'center', padding: 0,
    textStyle: { fontFamily: FONT, fontSize: 17, fontWeight: 'bold', color: '#000' }
  });
  grid.push({
    left: 71, width: 1022, top: plotTop[i], height: 310,
    show: true, backgroundColor: '#fff', borderColor: '#8a8a8a', borderWidth: 2
  });
  xAxis.push({
    type: 'value', gridIndex: i, min: 0, max: 360, interval: 30,
    name: 'Starting time', nameLocation: 'middle', nameGap: 44,
    nameTextStyle: { fontFamily: FONT, fontSize: 17, fontWeight: 'bold', color: '#000' },
    axisLine: { show: true, onZero: false, lineStyle: { color: '#666', width: 2 } },
    axisTick: { show: true, length: 4, lineStyle: { color: '#666' } },
    axisLabel: {
      rotate: 90, margin: 8, fontFamily: FONT, fontSize: 10, color: '#222',
      formatter: v => xTickLabels[Math.round(v / 30)]
    },
    splitLine: { show: false }
  });
  yAxis.push({
    type: 'value', gridIndex: i, min: 0, max: yMax[i], interval: 10,
    name: 'Total trip time (in min)', nameLocation: 'middle', nameGap: 30,
    nameTextStyle: { fontFamily: FONT, fontSize: 17, fontWeight: 'bold', color: '#000' },
    axisLine: { show: true, lineStyle: { color: '#666', width: 2 } },
    axisTick: { show: true, length: 4, lineStyle: { color: '#666' } },
    axisLabel: { margin: 6, fontFamily: FONT, fontSize: 10, color: '#222' },
    splitLine: { show: true, showMinLine: false, showMaxLine: false, lineStyle: { color: '#111', width: 1 } }
  });
  series.push({
    type: 'scatter', name: 'Paramics', xAxisIndex: i, yAxisIndex: i,
    data: paramicsByDay[i], symbol: 'circle', symbolSize: 8, clip: false,
    itemStyle: { color: MAGENTA, opacity: 1 }, z: 2
  });
  series.push({
    type: 'line', name: 'Tach runs', xAxisIndex: i, yAxisIndex: i,
    data: tachTimesByDay[i].map((t, k) => [t, tachValuesByDay[i][k]]),
    symbol: crossSymbol, symbolSize: 18, showAllSymbol: true, clip: false,
    lineStyle: { color: NAVY, width: 1 }, itemStyle: { color: NAVY }, z: 3
  });

  const lx = legendLeft[i], lm = legendMid[i];
  graphic.push({
    type: 'rect', shape: { x: lx + 0.5, y: lm - 15 + 0.5, width: 286, height: 30 },
    style: { fill: '#fff', stroke: '#000', lineWidth: 1 }, z: 10
  });
  // the circle icon sits centred in a 50px slot, the legend box starts at the circle
  legend.push({
    data: ['Paramics'], left: lx + 27, top: lm - 7, padding: 0, selectedMode: false,
    itemWidth: 50, itemHeight: 9, z: 20,
    textStyle: { fontFamily: FONT, fontSize: 17, color: '#000' }
  });
  legend.push({
    data: ['Tach runs'], left: lx + 144, top: lm - 7, padding: 0, selectedMode: false,
    itemWidth: 50, itemHeight: 17, z: 20,
    textStyle: { fontFamily: FONT, fontSize: 17, color: '#000' }
  });
}

chart.setOption({
  animation: false,
  backgroundColor: '#fff',
  title, grid, xAxis, yAxis, series, legend, graphic
});
</script>
</body>
</html>
